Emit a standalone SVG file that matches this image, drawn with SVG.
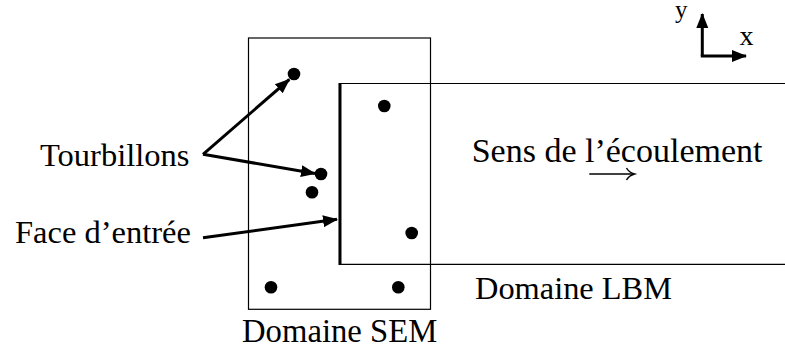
<svg xmlns="http://www.w3.org/2000/svg" width="785" height="356" viewBox="0 0 785 356">
<defs>
<marker id="ah" markerUnits="userSpaceOnUse" markerWidth="16" markerHeight="14" refX="14" refY="6" orient="auto" viewBox="0 0 16 12">
<path d="M0,0 L15,6 L0,12 Z" fill="#000"/>
</marker>
</defs>
<rect width="785" height="356" fill="#fff"/>
<g id="sem">
<rect fill="none" stroke="#000" stroke-width="1.2" x="248.5" y="38" width="182" height="271.3"/>
<text font-family="Liberation Serif" font-size="32.7" x="242" y="341.7">Domaine SEM</text>
</g>
<g id="lbm">
<path fill="none" stroke="#000" stroke-width="1.2" d="M786,83.5 H339.5 V264.3 H786"/>
<line x1="340" y1="83" x2="340" y2="265" stroke="#000" stroke-width="3"/>
<text font-family="Liberation Serif" font-size="32.4" x="475" y="299.3">Domaine LBM</text>
</g>
<g id="tourbillons" fill="#000">
<circle cx="294" cy="74" r="6.3"/>
<circle cx="384.3" cy="106" r="6.3"/>
<circle cx="321" cy="174" r="6.3"/>
<circle cx="312" cy="192.3" r="6.3"/>
<circle cx="411.7" cy="233" r="6.3"/>
<circle cx="271" cy="287.3" r="6.3"/>
<circle cx="398.3" cy="287.3" r="6.3"/>
</g>
<g id="label-tourbillons">
<text font-family="Liberation Serif" font-size="32.5" x="40" y="165.7">Tourbillons</text>
</g>
<g id="label-face">
<text font-family="Liberation Serif" font-size="32.5" x="15" y="243.3">Face d’entrée</text>
</g>
<g id="flow">
<text font-family="Liberation Serif" font-size="34" x="471.7" y="162.3">Sens de l’écoulement</text>
<line x1="589.3" y1="174" x2="633" y2="174" stroke="#000" stroke-width="1.6"/>
<path d="M626.5,168 Q629,172.5 634.5,174 Q629,175.5 626.5,180" fill="none" stroke="#000" stroke-width="1.5"/>
</g>
<g id="axes">
<line x1="702.3" y1="56" x2="702.3" y2="14" stroke="#000" stroke-width="3" marker-end="url(#ah)"/>
<line x1="700.8" y1="56" x2="746" y2="56" stroke="#000" stroke-width="3" marker-end="url(#ah)"/>
<text font-family="Liberation Serif" x="675" y="18" font-size="25">y</text>
<text font-family="Liberation Serif" x="739.5" y="45" font-size="28">x</text>
</g>
<g id="connectors" fill="none" stroke="#000" stroke-width="3">
<line marker-end="url(#ah)" x1="203" y1="154.3" x2="289.3" y2="79.5"/>
<line marker-end="url(#ah)" x1="203" y1="154.3" x2="315" y2="173.5"/>
<line marker-end="url(#ah)" x1="203" y1="237.7" x2="337" y2="219.3"/>
</g>
</svg>
